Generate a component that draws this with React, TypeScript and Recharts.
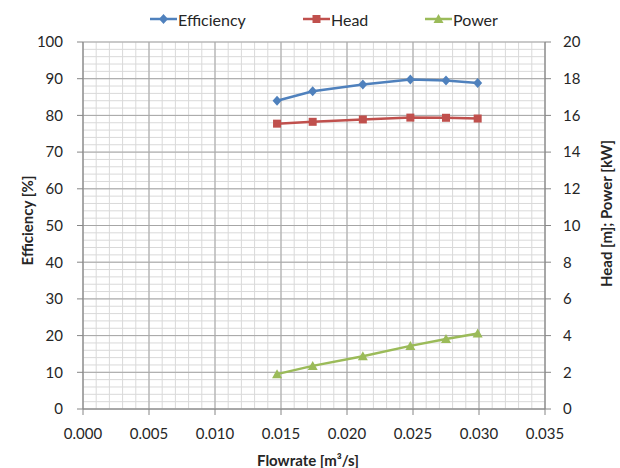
import { CartesianGrid, Label, Line, LineChart, XAxis, YAxis } from "recharts";

// Pump test points
const flowrate = [0.0147, 0.0174, 0.0212, 0.0248, 0.0275, 0.0299];
const efficiency = [84.0, 86.6, 88.4, 89.8, 89.5, 88.8];
const head = [15.55, 15.65, 15.78, 15.88, 15.87, 15.83];
const power = [1.9, 2.35, 2.87, 3.44, 3.82, 4.12];

const flowTicks = [0, 0.005, 0.01, 0.015, 0.02, 0.025, 0.03, 0.035];
const efficiencyTicks = [0, 10, 20, 30, 40, 50, 60, 70, 80, 90, 100];
const rightTicks = [0, 2, 4, 6, 8, 10, 12, 14, 16, 18, 20];

// minor gridlines: 5 per major step
const minorFlowTicks = Array.from({ length: 36 }, (_, i) => +(i * 0.001).toFixed(3));
const minorEffTicks = Array.from({ length: 51 }, (_, i) => i * 2);

const BLUE = "#4F81BD";
const RED = "#C0504D";
const GREEN = "#9BBB59";
const AXIS = "#868686";
const TEXT = "#262626";
const FONT = "Lato, 'Open Sans', sans-serif";

const data = flowrate.map((q, i) => ({
  q,
  efficiency: efficiency[i],
  head: head[i],
  power: power[i],
}));

type Marker = "diamond" | "square" | "triangle";

function markerPath(kind: Marker, cx: number, cy: number) {
  if (kind === "diamond") return `M${cx},${cy - 5} L${cx + 4.5},${cy} L${cx},${cy + 5} L${cx - 4.5},${cy} Z`;
  if (kind === "square") return `M${cx - 4},${cy - 4} h8 v8 h-8 Z`;
  return `M${cx},${cy - 5} L${cx + 5},${cy + 4} L${cx - 5},${cy + 4} Z`;
}

const makeDot = (kind: Marker, colour: string) => (props: any) => {
  const { cx, cy, index } = props;
  if (cx == null || cy == null) return <g key={index} />;
  return <path key={index} d={markerPath(kind, cx, cy)} fill={colour} />;
};

// map minor tick values through the axis scale handed to the grid
const minorVertical = ({ xAxis, offset }: any) =>
  minorFlowTicks.map((t) =>
    typeof xAxis?.scale === "function" ? xAxis.scale(t) : offset.left + (offset.width * t) / 0.035,
  );
const minorHorizontal = ({ yAxis, offset }: any) =>
  minorEffTicks.map((t) =>
    typeof yAxis?.scale === "function" ? yAxis.scale(t) : offset.top + offset.height * (1 - t / 100),
  );

const legendItems = [
  { name: "Efficiency", colour: BLUE, marker: "diamond" as Marker, left: 150 },
  { name: "Head", colour: RED, marker: "square" as Marker, left: 303 },
  { name: "Power", colour: GREEN, marker: "triangle" as Marker, left: 425 },
];

const tickStyle = { fill: TEXT, fontSize: 15, fontFamily: FONT };
const titleStyle = { fill: TEXT, fontSize: 15, fontFamily: FONT, fontWeight: 700 };

export default function App() {
  return (
    <div style={{ position: "absolute", left: 0, top: 0, width: 620, height: 468, background: "#fff" }}>
      <LineChart width={620} height={468} data={data} margin={{ top: 42, right: 0, bottom: 0, left: 0 }}>
        <CartesianGrid
          xAxisId="main"
          yAxisId="left"
          stroke="#d9d9d9"
          verticalCoordinatesGenerator={minorVertical}
          horizontalCoordinatesGenerator={minorHorizontal}
        />
        <CartesianGrid xAxisId="main" yAxisId="left" stroke="#a6a6a6" />
        <XAxis
          xAxisId="main"
          type="number"
          dataKey="q"
          domain={[0, 0.035]}
          ticks={flowTicks}
          interval={0}
          tickFormatter={(v: number) => v.toFixed(3)}
          height={59}
          tick={tickStyle}
          tickSize={6}
          tickMargin={13}
          stroke={AXIS}
        >
          <Label value="Flowrate [m³/s]" position="center" dx={-6} dy={22} style={titleStyle} />
        </XAxis>
        <YAxis
          yAxisId="left"
          orientation="left"
          domain={[0, 100]}
          ticks={efficiencyTicks}
          interval={0}
          width={83}
          tick={tickStyle}
          tickSize={6}
          tickMargin={14}
          stroke={AXIS}
        >
          <Label value="Efficiency [%]" angle={-90} position="center" dx={-14} dy={-5} style={titleStyle} />
        </YAxis>
        <YAxis
          yAxisId="right"
          orientation="right"
          domain={[0, 20]}
          ticks={rightTicks}
          interval={0}
          width={75}
          tick={tickStyle}
          tickSize={6}
          tickMargin={12}
          stroke={AXIS}
        >
          <Label value="Head [m]; Power [kW]" angle={-90} position="center" dx={24} dy={-12} style={titleStyle} />
        </YAxis>
        <Line
          xAxisId="main"
          yAxisId="left"
          dataKey="efficiency"
          stroke={BLUE}
          strokeWidth={2.5}
          dot={makeDot("diamond", BLUE)}
          activeDot={false}
          isAnimationActive={false}
        />
        <Line
          xAxisId="main"
          yAxisId="right"
          dataKey="head"
          stroke={RED}
          strokeWidth={2.5}
          dot={makeDot("square", RED)}
          activeDot={false}
          isAnimationActive={false}
        />
        <Line
          xAxisId="main"
          yAxisId="right"
          dataKey="power"
          stroke={GREEN}
          strokeWidth={2.5}
          dot={makeDot("triangle", GREEN)}
          activeDot={false}
          isAnimationActive={false}
        />
      </LineChart>
      {legendItems.map((it) => (
        <div
          key={it.name}
          style={{
            position: "absolute",
            left: it.left,
            top: 9,
            display: "flex",
            alignItems: "center",
            fontFamily: FONT,
            fontSize: 16,
            color: TEXT,
          }}
        >
          <svg width={27} height={20}>
            <line x1={0} y1={10} x2={27} y2={10} stroke={it.colour} strokeWidth={2.5} />
            <path d={markerPath(it.marker, 13.5, 10)} fill={it.colour} />
          </svg>
          <span style={{ marginLeft: 1 }}>{it.name}</span>
        </div>
      ))}
    </div>
  );
}
